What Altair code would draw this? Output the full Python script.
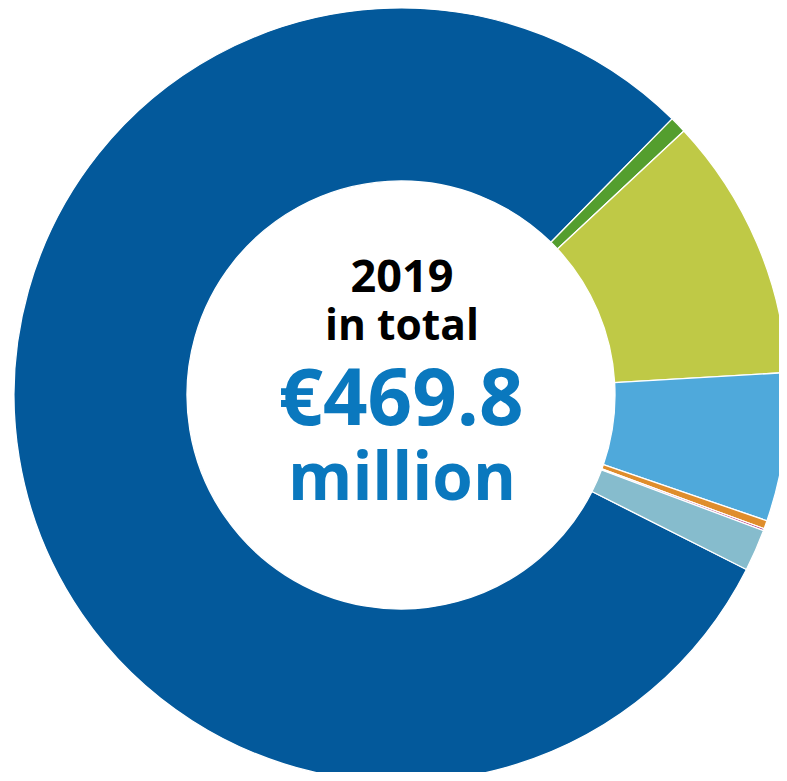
import altair as alt
import pandas as pd
import math

# Slices, clockwise, starting at the lower-right edge of the large dark blue segment
categories = ["A", "B", "C", "D", "E", "F", "G"]
values = [375.4, 3.26, 51.8, 29.1, 1.63, 0.39, 8.2]   # € million
colors = ["#03599B", "#549E2E", "#BFC946", "#4FA9DB", "#DF8D2C", "#B0327A", "#86BCCD"]

center_lines = ["2019", "in total"]
total_lines = ["€469.8", "million"]

start = math.radians(116.8)

df = pd.DataFrame({"cat": categories, "value": values, "order": list(range(len(values)))})

arc = alt.Chart(df).mark_arc(
    innerRadius=214, outerRadius=387, stroke="white", strokeWidth=1.3
).encode(
    theta=alt.Theta("value:Q", stack=True,
                    scale=alt.Scale(range=[start, start + 2 * math.pi])),
    order=alt.Order("order:Q"),
    color=alt.Color("cat:N", scale=alt.Scale(domain=categories, range=colors), legend=None),
    x=alt.value(393),
    y=alt.value(387),
)

def line(txt, size, color, x, y):
    return alt.Chart(pd.DataFrame({"t": [txt]})).mark_text(
        font="Open Sans", fontWeight="bold", fontSize=size, color=color,
        baseline="alphabetic", align="center"
    ).encode(text="t:N", x=alt.value(x), y=alt.value(y))

t1 = line(center_lines[0], 45, "#000000", 394, 284)
t2 = line(center_lines[1], 42.5, "#000000", 394, 332)
t3 = line(total_lines[0], 78, "#0A78BE", 393, 417)
t4 = line(total_lines[1], 65.5, "#0A78BE", 394, 492)

chart = alt.layer(arc, t1, t2, t3, t4).properties(
    width=771, height=764, autosize=alt.AutoSizeParams(type="none"), padding=0
).configure_view(stroke=None)

chart.save("out.html", embed_options={"renderer": "svg", "actions": False})
